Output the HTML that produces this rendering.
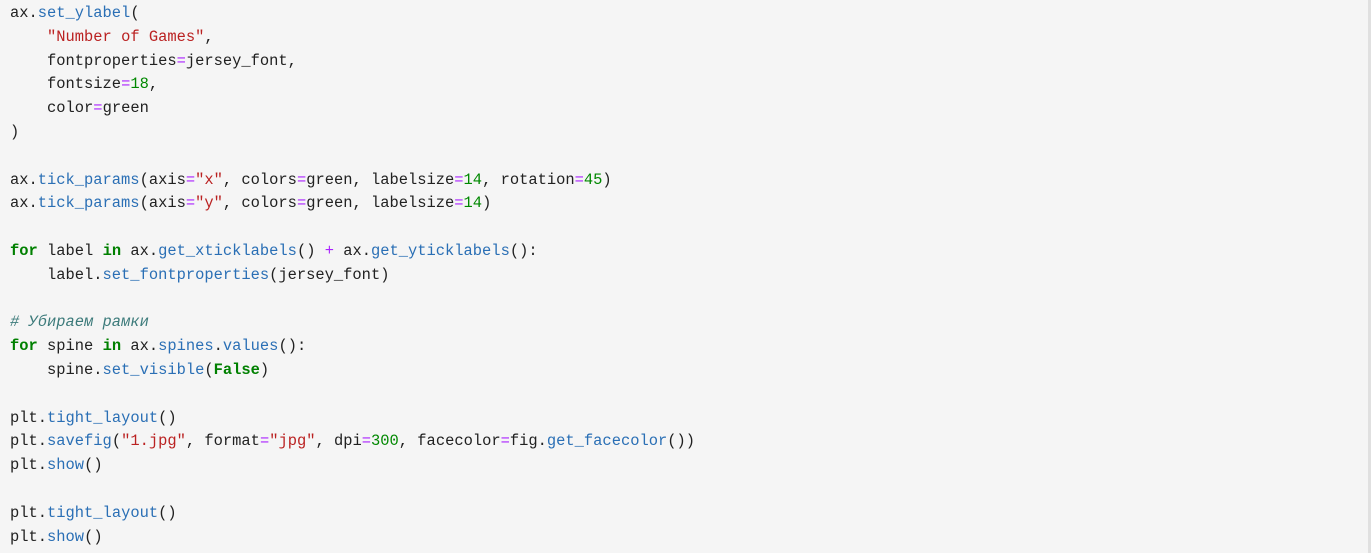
<!DOCTYPE html>
<html><head><meta charset="utf-8"><style>
html,body{margin:0;padding:0;background:#f5f5f5;width:1371px;height:553px;overflow:hidden}
.bar{position:absolute;left:1368px;top:0;width:3px;height:553px;background:#e0e0e0}
pre{margin:0;position:absolute;left:10px;top:2px;font-family:"Liberation Mono","DejaVu Sans Mono",monospace;font-size:15.43px;line-height:23.8px;color:#212121}
.f{color:#2a6fb5}.s{color:#ba2121}.k{color:#008000;font-weight:bold}.o{color:#aa22ff}.n{color:#008800}.c{color:#3d7b7b;font-style:italic}
</style></head><body><div class="bar"></div>
<pre>ax.<span class="f">set_ylabel</span>(
    <span class="s">"Number of Games"</span>,
    fontproperties<span class="o">=</span>jersey_font,
    fontsize<span class="o">=</span><span class="n">18</span>,
    color<span class="o">=</span>green
)

ax.<span class="f">tick_params</span>(axis<span class="o">=</span><span class="s">"x"</span>, colors<span class="o">=</span>green, labelsize<span class="o">=</span><span class="n">14</span>, rotation<span class="o">=</span><span class="n">45</span>)
ax.<span class="f">tick_params</span>(axis<span class="o">=</span><span class="s">"y"</span>, colors<span class="o">=</span>green, labelsize<span class="o">=</span><span class="n">14</span>)

<span class="k">for</span> label <span class="k">in</span> ax.<span class="f">get_xticklabels</span>() <span class="o">+</span> ax.<span class="f">get_yticklabels</span>():
    label.<span class="f">set_fontproperties</span>(jersey_font)

<span class="c"># Убираем рамки</span>
<span class="k">for</span> spine <span class="k">in</span> ax.<span class="f">spines</span>.<span class="f">values</span>():
    spine.<span class="f">set_visible</span>(<span class="k">False</span>)

plt.<span class="f">tight_layout</span>()
plt.<span class="f">savefig</span>(<span class="s">"1.jpg"</span>, format<span class="o">=</span><span class="s">"jpg"</span>, dpi<span class="o">=</span><span class="n">300</span>, facecolor<span class="o">=</span>fig.<span class="f">get_facecolor</span>())
plt.<span class="f">show</span>()

plt.<span class="f">tight_layout</span>()
plt.<span class="f">show</span>()</pre>
</body></html>
